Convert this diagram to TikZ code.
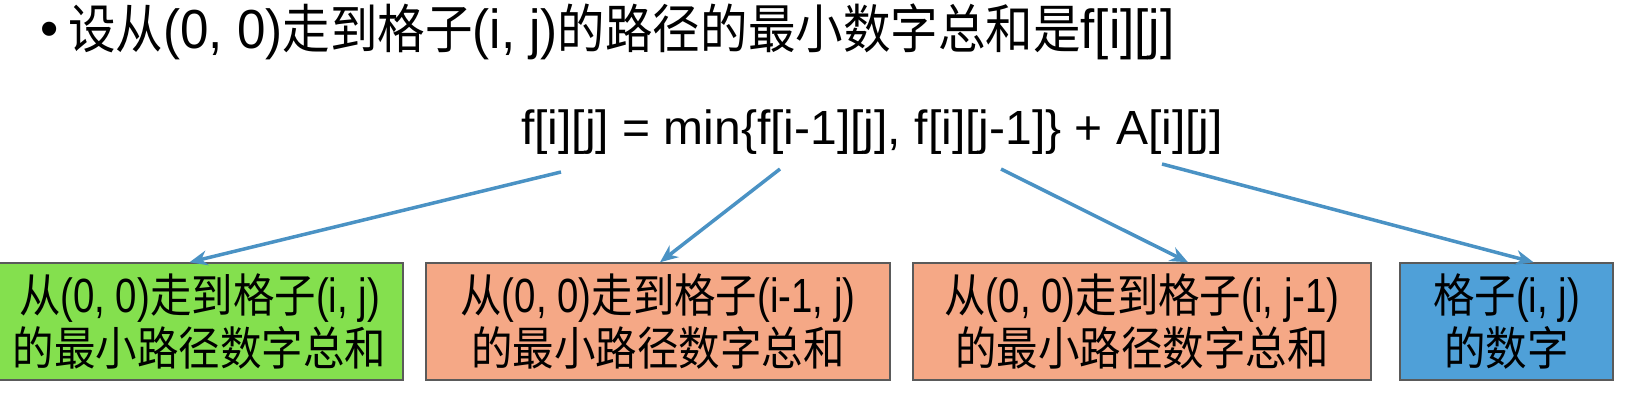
\documentclass[tikz,border=0pt]{standalone}
\usepackage{fontspec}
\setmainfont{Liberation Sans}
\newfontfamily\cjk{Noto Sans CJK SC}[FakeStretch=0.9,Scale=0.96]
\newfontfamily\narrow{Liberation Sans}[FakeStretch=0.8]
\newfontfamily\headfont{Liberation Sans}[FakeStretch=0.93]
\newcommand\zh[1]{{\cjk #1}}
\usepackage{tikz}
\usetikzlibrary{arrows.meta}

\definecolor{boxgreen}{HTML}{84E04E}
\definecolor{boxsalmon}{HTML}{F5A886}
\definecolor{boxblue}{HTML}{4FA0D8}
\definecolor{boxline}{HTML}{5A5A5A}
\definecolor{linkblue}{HTML}{4A92C4}

\begin{document}
\begin{tikzpicture}[x=1pt,y=1pt,
  cell/.style={draw=boxline,line width=1.5pt,minimum height=117pt,inner sep=0pt,
    align=center,font=\narrow\fontsize{48}{53}\selectfont},
  link/.style={draw=linkblue,line width=3.5pt,-{Stealth[length=18pt,width=15pt]}}]
  \useasboundingbox (0,0) rectangle (1630,400);
  % heading line
  \node[inner sep=0pt] (dot) at (50,366) {\fontsize{52}{56}\selectfont •};
  \node[anchor=base west,inner sep=0pt] (title) at (68,352)
    {\headfont\fontsize{55}{60}\selectfont\zh{设从}(0, 0)\zh{走到格子}(i, j)\zh{的路径的最小数字总和是}f[i][j]};
  % recurrence
  \node[inner sep=0pt] (eq) at (872,268)
    {\fontsize{48}{56}\selectfont f[i][j] = min\{f[i-1][j], f[i][j-1]\} + A[i][j]};
  \coordinate (s1) at (561,228);
  \coordinate (s2) at (780,231);
  \coordinate (s3) at (1001,231);
  \coordinate (s4) at (1162,236);
  % the four boxes
  \node[cell,fill=boxgreen,minimum width=407pt] (b1) at (199.5,78.5)
    {\zh{从}(0, 0)\zh{走到格子}(i, j)\\\zh{的最小路径数字总和}};
  \node[cell,fill=boxsalmon,minimum width=464pt] (b2) at (658,78.5)
    {\zh{从}(0, 0)\zh{走到格子}(i-1, j)\\\zh{的最小路径数字总和}};
  \node[cell,fill=boxsalmon,minimum width=458pt] (b3) at (1142,78.5)
    {\zh{从}(0, 0)\zh{走到格子}(i, j-1)\\\zh{的最小路径数字总和}};
  \node[cell,fill=boxblue,minimum width=213pt] (b4) at (1506.5,78.5)
    {\zh{格子}(i, j)\\\zh{的数字}};
  % arrows
  \draw[link] (s1) -- ([xshift=-10pt]b1.north);
  \draw[link] (s2) -- ([xshift=2pt]b2.north);
  \draw[link] (s3) -- ([xshift=46pt]b3.north);
  \draw[link] (s4) -- ([xshift=27pt]b4.north);
\end{tikzpicture}
\end{document}
